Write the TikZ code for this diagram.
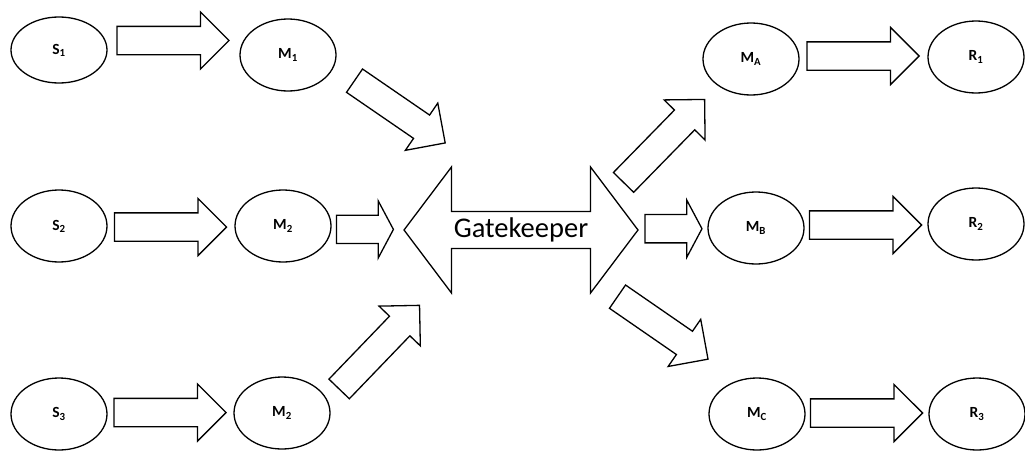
\documentclass[tikz,border=0pt]{standalone}
\usepackage{fontspec}
\setmainfont{Carlito}
\usepackage{tikz}
\usetikzlibrary{shapes.geometric,shapes.arrows,calc}
\newcommand{\stagefont}{\fontsize{15.5}{18}\selectfont\bfseries}
\tikzset{
  stage/.style={draw, ellipse, line width=1.3pt, minimum width=96pt, minimum height=72pt, inner sep=0pt, font=\stagefont},
  fatarrow/.style={draw, single arrow, line width=1.3pt, minimum height=112pt, minimum width=56pt,
    single arrow head extend=14.5pt, single arrow tip angle=90, inner xsep=0pt, inner ysep=13.5pt},
  stubarrow/.style={fatarrow, minimum height=57pt, single arrow tip angle=124},
  gatebox/.style={draw, double arrow, line width=1.3pt, minimum height=234pt, minimum width=126pt,
    double arrow head extend=31pt, double arrow tip angle=106, inner sep=0pt, font=\fontsize{28.5}{32}\selectfont}
}
\begin{document}
\begin{tikzpicture}[x=1pt, y=-1pt]
  \useasboundingbox (0,0) rectangle (1025,450);
  % senders and their mediators
  \node[stage, minimum height=66pt] (S1) at (59,50) {S\textsubscript{1}};
  \node[stage] (S2) at (59,226) {S\textsubscript{2}};
  \node[stage] (S3) at (59,414) {S\textsubscript{3}};
  \node[stage] (M1) at (288,55) {M\textsubscript{1}};
  \node[stage] (M2) at (283,226) {M\textsubscript{2}};
  \node[stage] (M2b) at (282,413) {M\textsubscript{2}};
  \node[gatebox] (gate) at (521,230) {Gatekeeper};
  % mediators and receivers on the far side
  \node[stage] (MA) at (751,59) {M\textsubscript{A}};
  \node[stage] (MB) at (756,228) {M\textsubscript{B}};
  \node[stage] (MC) at (757,414) {M\textsubscript{C}};
  \node[stage] (R1) at (976,57) {R\textsubscript{1}};
  \node[stage] (R2) at (976,224) {R\textsubscript{2}};
  \node[stage] (R3) at (977,414) {R\textsubscript{3}};

  \path (S1) -- node[fatarrow, xshift=-7.5pt, yshift=12pt] (s1m1) {} (M1);
  \path (S2) -- node[fatarrow, xshift=-7.5pt, yshift=-1pt] (s2m2) {} (M2);
  \path (S3) -- node[fatarrow, xshift=-7.5pt, yshift=1pt] (s3m2) {} (M2b);
  \path (M2) -- node[stubarrow, xshift=-7pt, yshift=-2pt] (m2gate) {} (gate);
  \path ([yshift=20pt]M1.center) -- node[fatarrow, sloped, pos=0.455, minimum height=110pt] (m1gate) {} ([yshift=35pt]gate.center);
  \path ([xshift=34pt]M2b.center) -- node[fatarrow, sloped, pos=0.332, minimum height=116pt] (m2bgate) {} ([xshift=-29pt]gate.center);

  \path ([xshift=56pt]gate.center) -- node[fatarrow, sloped, pos=0.472, minimum height=116pt] (gatema) {} ([yshift=7pt]MA.center);
  \path (gate) -- node[stubarrow, xshift=-3pt] (gatemb) {} (MB);
  \path (gate.center) -- node[fatarrow, sloped, pos=0.576, minimum height=110pt] (gatemc) {} ([yshift=21pt]MC.center);
  \path (MA) -- node[fatarrow, xshift=-7.5pt, yshift=2pt] (mar1) {} (R1);
  \path (MB) -- node[fatarrow, xshift=-7.5pt, yshift=1pt] (mbr2) {} (R2);
  \path (MC) -- node[fatarrow, xshift=-7.5pt, yshift=1pt] (mcr3) {} (R3);
\end{tikzpicture}
\end{document}
